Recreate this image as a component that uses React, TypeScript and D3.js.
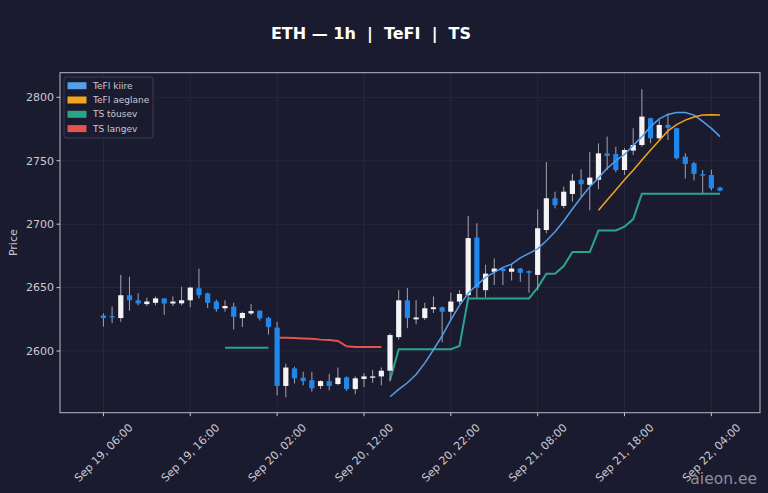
import React, { useEffect } from 'react';
import { scaleTime, scaleLinear, line, timeHour, timeFormat } from 'd3';

// hourly candles, Sep 19 06:00 -> Sep 22 05:00
const opens = [
  2628, 2627.5, 2626, 2644, 2640, 2637, 2638, 2641.5, 2637.5, 2637.6,
  2640, 2649.5, 2645.5, 2639, 2633.7, 2635, 2626, 2629.7, 2631.8, 2626,
  2618.5, 2572.5, 2586.3, 2579, 2577, 2572.4, 2576.3, 2574, 2579.3, 2570,
  2578, 2579, 2580, 2584.5, 2611, 2640, 2625, 2626, 2633, 2634.5,
  2631, 2639, 2644, 2689.4, 2648, 2662.5, 2665, 2662.5, 2665, 2663,
  2660, 2695.4, 2720.4, 2714.4, 2723.8, 2735, 2731, 2735, 2755.8, 2755.3,
  2742.7, 2758, 2762.4, 2783.5, 2767.7, 2778.2, 2775.6, 2753.2, 2748, 2739.4,
  2738.8, 2728.8,
];
const highs = [
  2629.7, 2635, 2660, 2658.6, 2645.5, 2642, 2643, 2641.5, 2643, 2650.7,
  2650.7, 2665, 2646, 2640.5, 2640, 2638, 2631, 2637, 2632, 2627,
  2623, 2590, 2587.6, 2583.7, 2583.7, 2577, 2582, 2587, 2580, 2580,
  2582.6, 2585, 2587, 2614, 2648, 2649.7, 2640, 2638, 2643, 2635,
  2646, 2648, 2706.5, 2700.7, 2668, 2673, 2665.5, 2668.7, 2665.5, 2663.5,
  2711.7, 2749, 2725.6, 2729.6, 2739.6, 2743.3, 2757, 2763.7, 2769, 2761,
  2760, 2775.6, 2806.4, 2784, 2782, 2787.4, 2776, 2755.8, 2749, 2742.7,
  2743, 2729.5,
];
const lows = [
  2619.2, 2622, 2623, 2631.8, 2636, 2635.5, 2636, 2628.5, 2635.5, 2636,
  2634.5, 2641.5, 2634, 2631, 2631, 2617, 2619, 2628.4, 2624, 2613,
  2565, 2563.5, 2574.5, 2573, 2568, 2570, 2569, 2573, 2568.6, 2566,
  2571.6, 2575, 2573, 2576, 2609, 2618, 2621, 2624.5, 2630, 2607,
  2624.5, 2637, 2642, 2642, 2642.5, 2652, 2652, 2655.6, 2654.6, 2646,
  2648, 2692.8, 2712.5, 2712.5, 2717.7, 2721.7, 2711, 2727.5, 2742.7, 2741,
  2738.8, 2754.6, 2761, 2763.8, 2766, 2766.4, 2751, 2736, 2734.6, 2724.4,
  2726.6, 2726,
];
const closes = [
  2626, 2626.5, 2644, 2640, 2637.5, 2639, 2641.5, 2637.5, 2639, 2640,
  2650, 2644, 2638, 2633, 2635.5, 2627, 2630, 2631.5, 2625.8, 2619,
  2572.5, 2587, 2578.5, 2576.3, 2570.6, 2576.3, 2572.4, 2579, 2570, 2578.5,
  2580, 2580, 2584.5, 2612.6, 2640, 2626, 2626.5, 2633.7, 2634.5, 2631,
  2639, 2645, 2689, 2650, 2661, 2665, 2663, 2665, 2661.7, 2661.7,
  2696.8, 2720.4, 2715, 2725.6, 2734.3, 2731.5, 2736.7, 2755.8, 2753.8, 2742.7,
  2758.5, 2762.4, 2784.8, 2767.7, 2778.2, 2776, 2752, 2747.5, 2739.6, 2738.3,
  2728.3, 2726.4,
];

const _ = null;
const teFiFast: (number | null)[] = [
  _, _, _, _, _, _, _, _, _, _, _, _, _, _, _, _, _, _, _, _,
  _, _, _, _, _, _, _, _, _, _, _, _, _,
  2564, 2569.8, 2575, 2581.5, 2590.5, 2601, 2612, 2624.5, 2636, 2645.5,
  2652, 2658, 2662, 2666, 2668.5, 2673.5, 2677, 2680.5, 2687, 2694,
  2702.5, 2712, 2721, 2729.5, 2736.5, 2744, 2750, 2755, 2762, 2769,
  2777, 2783, 2786.5, 2788, 2788, 2786, 2781, 2775.5, 2769,
];
const teFiSlow: (number | null)[] = [
  _, _, _, _, _, _, _, _, _, _, _, _, _, _, _, _, _, _, _, _,
  _, _, _, _, _, _, _, _, _, _, _, _, _, _, _, _, _, _, _, _,
  _, _, _, _, _, _, _, _, _, _, _, _, _, _, _, _, _,
  2711, 2719, 2727, 2735, 2742.5, 2750.5, 2758.5, 2766, 2773.5, 2778.5,
  2782, 2784.5, 2786, 2786.3, 2786,
];
const tsUp: (number | null)[] = [
  _, _, _, _, _, _, _, _, _, _, _, _, _, _,
  2602.5, 2602.5, 2602.5, 2602.5, 2602.5, 2602.5,
  _, _, _, _, _, _, _, _, _, _, _, _, _,
  2577, 2601.5, 2601.5, 2601.5, 2601.5, 2601.5, 2601.5, 2601.5, 2604, 2641.5,
  2641.5, 2641.5, 2641.5, 2641.5, 2641.5, 2641.5, 2641.5, 2650, 2661, 2661,
  2667, 2678, 2678, 2678, 2695, 2695, 2695, 2698, 2704, 2724,
  2724, 2724, 2724, 2724, 2724, 2724, 2724, 2724, 2724,
];
const tsDown: (number | null)[] = [
  _, _, _, _, _, _, _, _, _, _, _, _, _, _, _, _, _, _, _, _,
  2610.5, 2610.5, 2610.2, 2609.9, 2609.6, 2609, 2608.7, 2607.9, 2603.7, 2603.1,
  2603.1, 2603.1, 2603.1,
  _, _, _, _, _, _, _, _, _, _, _, _, _, _, _, _, _, _, _, _,
  _, _, _, _, _, _, _, _, _, _, _, _, _, _, _, _, _, _, _,
];

const yTicks = [2600, 2650, 2700, 2750, 2800];
const legendLabels = ['TeFI kiire', 'TeFI aeglane', 'TS tõusev', 'TS langev'];

const start = new Date(2025, 8, 19, 6);
const times = opens.map((_v, i) => timeHour.offset(start, i));
const xTickTimes = [0, 10, 20, 30, 40, 50, 60, 70].map(h => timeHour.offset(start, h));

const W = 768;
const H = 493;
const bg = '#1b1b2f';
const fg = '#c9c9d3';
const colors = {
  fast: '#559ee8',
  slow: '#f0a51e',
  up: '#2aa58a',
  down: '#e5534f',
  candleUp: '#f4f4f6',
  candleDown: '#1e88ee',
  wick: '#a3a3ad',
};
const legendColors = [colors.fast, colors.slow, colors.up, colors.down];

const App: React.FC = () => {
  useEffect(() => {
    document.body.style.margin = '0';
    document.body.style.background = bg;
  }, []);

  const plot = { left: 60, right: 760, top: 72.7, bottom: 412.7 };
  const x = scaleTime()
    .domain([timeHour.offset(start, -4.6), new Date(times[times.length - 1].getTime() + 4.6 * 3600e3)])
    .range([plot.left, plot.right]);
  const y = scaleLinear().domain([2551.4, 2819.4]).range([plot.bottom, plot.top]);
  const fmt = timeFormat('%b %d, %H:%M');
  const bodyW = 5.2;

  const mkLine = (vals: (number | null)[]) =>
    line<number | null>()
      .defined(v => v !== null)
      .x((_v, i) => x(times[i]))
      .y(v => y(v as number))(vals) || '';

  return (
    <svg width={W} height={H} style={{ display: 'block', background: bg }} fontFamily="DejaVu Sans, sans-serif">
      <rect width={W} height={H} fill={bg} />
      <text x={371} y={39} textAnchor="middle" fill="#ffffff" fontSize={16} fontWeight="bold" style={{ whiteSpace: 'pre' }}>
        {'ETH — 1h  |  TeFI  |  TS'}
      </text>

      {/* grid */}
      {yTicks.map(t => (
        <line key={'gy' + t} x1={plot.left} x2={plot.right} y1={y(t)} y2={y(t)} stroke="#2a2a42" strokeWidth={0.8} />
      ))}
      {xTickTimes.map((t, i) => (
        <line key={'gx' + i} x1={x(t)} x2={x(t)} y1={plot.top} y2={plot.bottom} stroke="#2a2a42" strokeWidth={0.8} />
      ))}

      {/* trailing stop */}
      <path d={mkLine(tsUp)} fill="none" stroke={colors.up} strokeWidth={2} />
      <path d={mkLine(tsDown)} fill="none" stroke={colors.down} strokeWidth={2} />

      {/* candles */}
      {opens.map((o, i) => {
        const c = closes[i];
        const cx = x(times[i]);
        const isUp = c >= o;
        const top = y(Math.max(o, c));
        const bot = y(Math.min(o, c));
        return (
          <g key={'c' + i}>
            <line x1={cx} x2={cx} y1={y(highs[i])} y2={y(lows[i])} stroke={colors.wick} strokeWidth={1} />
            <rect
              x={cx - bodyW / 2}
              y={top}
              width={bodyW}
              height={Math.max(bot - top, 1.2)}
              fill={isUp ? colors.candleUp : colors.candleDown}
            />
          </g>
        );
      })}

      <path d={mkLine(teFiFast)} fill="none" stroke={colors.fast} strokeWidth={1.5} />
      <path d={mkLine(teFiSlow)} fill="none" stroke={colors.slow} strokeWidth={1.5} />

      {/* frame */}
      <rect
        x={plot.left}
        y={plot.top}
        width={plot.right - plot.left}
        height={plot.bottom - plot.top}
        fill="none"
        stroke="#b9b9c6"
        strokeWidth={1}
      />

      {/* y axis */}
      {yTicks.map(t => (
        <g key={'yt' + t}>
          <line x1={plot.left - 3.5} x2={plot.left} y1={y(t)} y2={y(t)} stroke={fg} />
          <text x={plot.left - 6} y={y(t)} dy="0.35em" textAnchor="end" fill={fg} fontSize={11}>
            {t}
          </text>
        </g>
      ))}
      <text transform={`translate(17,${(plot.top + plot.bottom) / 2}) rotate(-90)`} textAnchor="middle" fill={fg} fontSize={11}>
        Price
      </text>

      {/* x axis */}
      {xTickTimes.map((t, i) => {
        const tx = x(t);
        return (
          <g key={'xt' + i}>
            <line x1={tx} x2={tx} y1={plot.bottom} y2={plot.bottom + 3.5} stroke={fg} />
            <text
              transform={`translate(${tx},${plot.bottom + 40}) rotate(-45)`}
              textAnchor="middle"
              dy="0.35em"
              fill={fg}
              fontSize={11}
            >
              {fmt(t)}
            </text>
          </g>
        );
      })}

      {/* legend */}
      <rect x={64} y={77} width={89} height={61} fill={bg} stroke="#3b3b52" strokeWidth={1} rx={2} />
      {legendLabels.map((lab, i) => {
        const ly = 85.7 + i * 14.3;
        return (
          <g key={lab}>
            <rect x={67.5} y={ly - 3.5} width={19} height={7} fill={legendColors[i]} />
            <text x={93} y={ly} dy="0.35em" fill={fg} fontSize={9}>
              {lab}
            </text>
          </g>
        );
      })}

      <text x={757} y={484} textAnchor="end" fill="#8f8f9c" fontSize={15.5}>
        aieon.ee
      </text>
    </svg>
  );
};

export default App;
